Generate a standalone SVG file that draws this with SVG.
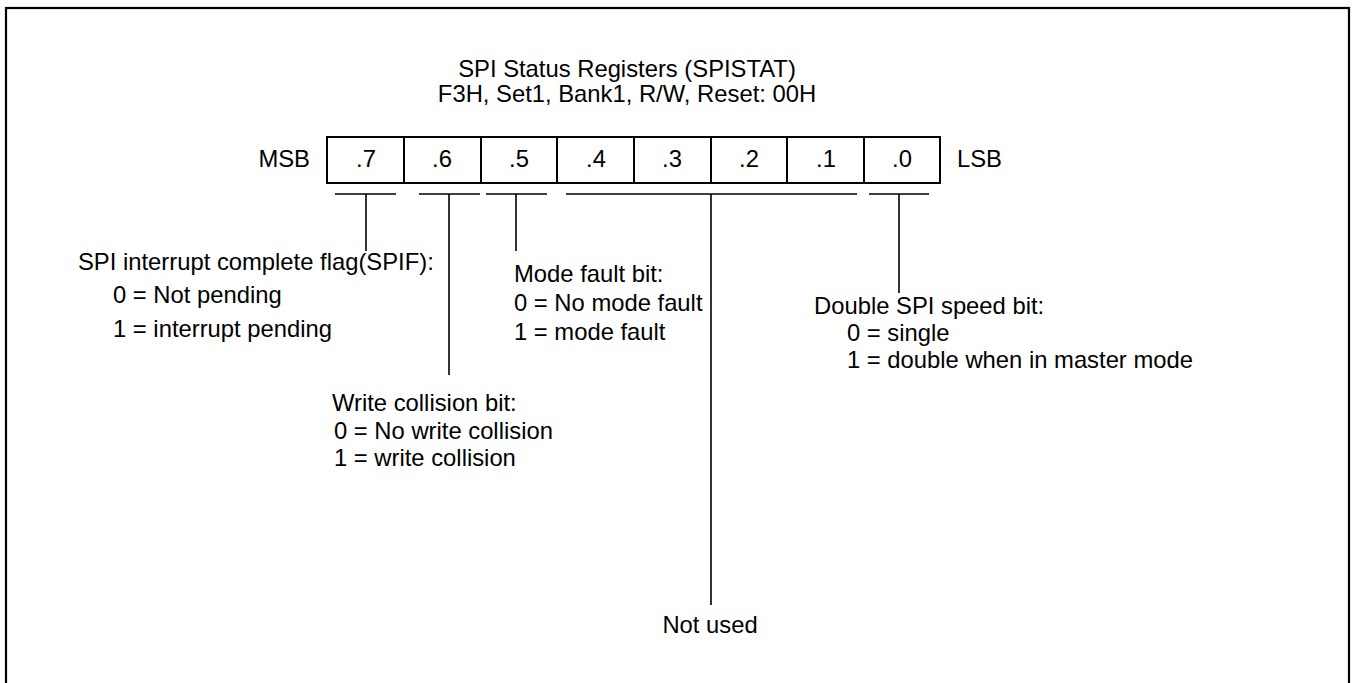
<svg xmlns="http://www.w3.org/2000/svg" width="1352" height="683" viewBox="0 0 1352 683">
<style>
text{font-family:"Liberation Sans",Arial,sans-serif;font-size:23.8px;fill:#000}
.c{text-anchor:middle}
.e{text-anchor:end}
.box{fill:none;stroke:#000;stroke-width:2}
.ln{stroke:#000;stroke-width:1.6;fill:none}
</style>
<rect x="6" y="8" width="1343" height="700" fill="#fff" stroke="#000" stroke-width="2.2"/>
<g id="title">
<text class="c" x="627" y="77">SPI Status Registers (SPISTAT)</text>
<text class="c" x="627" y="102">F3H, Set1, Bank1, R/W, Reset: 00H</text>
</g>
<g id="register">
<rect class="box" x="327" y="137" width="613" height="46"/>
<line class="box" x1="404" y1="137" x2="404" y2="183"/>
<line class="box" x1="481" y1="137" x2="481" y2="183"/>
<line class="box" x1="557" y1="137" x2="557" y2="183"/>
<line class="box" x1="634" y1="137" x2="634" y2="183"/>
<line class="box" x1="711" y1="137" x2="711" y2="183"/>
<line class="box" x1="787" y1="137" x2="787" y2="183"/>
<line class="box" x1="864" y1="137" x2="864" y2="183"/>
<text class="e" x="310" y="167">MSB</text>
<text x="957" y="167">LSB</text>
<text class="c" x="366" y="167">.7</text>
<text class="c" x="442" y="167">.6</text>
<text class="c" x="519" y="167">.5</text>
<text class="c" x="596" y="167">.4</text>
<text class="c" x="672" y="167">.3</text>
<text class="c" x="749" y="167">.2</text>
<text class="c" x="826" y="167">.1</text>
<text class="c" x="902" y="167">.0</text>
</g>
<g id="connectors">
<path class="ln" d="M335 194H396M366 194V251"/>
<path class="ln" d="M419 194H480M449 194V375"/>
<path class="ln" d="M486 194H547M516 194V251"/>
<path class="ln" d="M566 194H857M711 194V605"/>
<path class="ln" d="M869 194H929M899 194V293"/>
</g>
<g id="spif">
<text x="78" y="270">SPI interrupt complete flag(SPIF):</text>
<text x="113" y="303">0 = Not pending</text>
<text x="113" y="337">1 = interrupt pending</text>
</g>
<g id="wcol">
<text x="332" y="411">Write collision bit:</text>
<text x="334" y="439">0 = No write collision</text>
<text x="334" y="466">1 = write collision</text>
</g>
<g id="modf">
<text x="514" y="282">Mode fault bit:</text>
<text x="514" y="311">0 = No mode fault</text>
<text x="514" y="340">1 = mode fault</text>
</g>
<g id="notused">
<text class="c" x="710" y="633">Not used</text>
</g>
<g id="dspi">
<text x="814" y="314">Double SPI speed bit:</text>
<text x="847" y="341">0 = single</text>
<text x="847" y="368">1 = double when in master mode</text>
</g>
</svg>
